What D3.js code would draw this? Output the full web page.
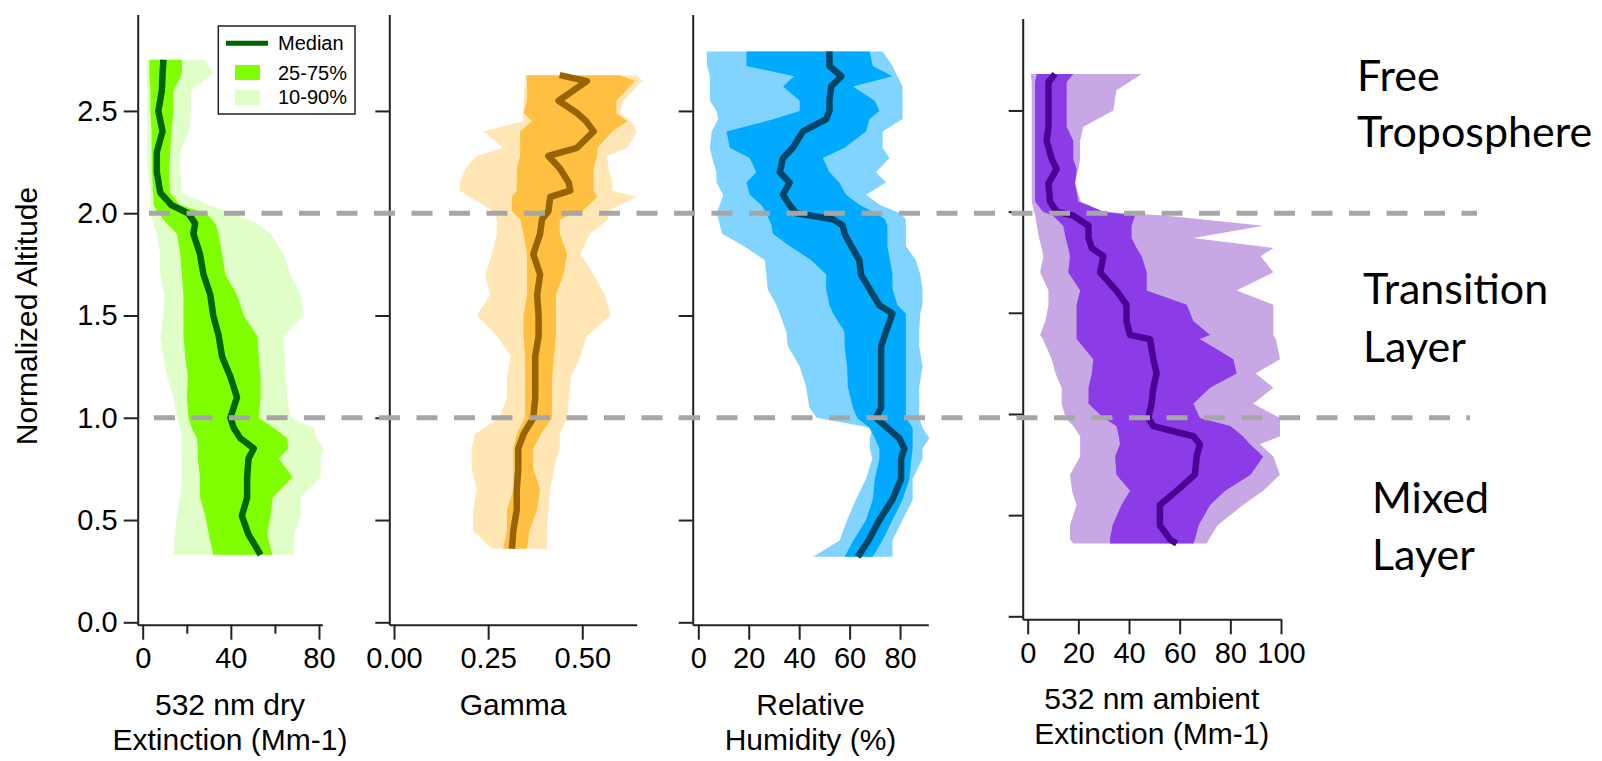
<!DOCTYPE html>
<html><head><meta charset="utf-8">
<script src="https://cdn.jsdelivr.net/npm/d3@7/dist/d3.min.js"></script>
<style>
body{margin:0;background:#fff;}
svg{display:block;}
text{font-family:Arial,"Liberation Sans",sans-serif;fill:#000;}
.region{font-family:Lato,"Open Sans",sans-serif;}
</style>
</head><body>
<svg id="c" width="1602" height="761"></svg>
<script>
// ---------------- DATA ----------------
// Panel 1: 532 nm dry extinction (Mm-1)
const dryAlt = [0.33,0.43,0.52,0.61,0.71,0.80,0.85,0.90,0.95,1.00,1.10,1.20,1.30,1.40,1.50,1.60,1.70,1.80,1.90,1.95,2.00,2.04,2.10,2.20,2.30,2.40,2.50,2.60,2.68,2.75];
const dryP10 = [14,14.5,15.5,17,17.8,17.8,17.5,17.8,17,15.5,14,11,9.4,7.9,9.4,9.8,7.9,7.9,6.4,4.7,3.4,3.4,3.4,2.3,2,2,2,2,1.8,1.8];
const dryP25 = [32,30,28.4,26,26,25,25,24.6,22.3,20.8,20,20.5,19.3,18.5,18.5,18.5,17.8,17,15.5,11,7,5,4.7,4.2,4,4,3.5,3.5,3,3];
const dryMed = [53.5,48,45,47.4,47.4,48,50.4,44.3,41.3,39.8,42.8,39.8,36,34.5,32,30.7,27.6,26,23,23.8,20.6,13,8,6.4,6.4,9,7.1,8.7,9,9.4];
const dryP75 = [58.8,56.5,58,59,68,61.8,66,65.6,59.5,52.7,53.5,53.5,52.7,52,45.9,42.8,37.5,36,34.4,33,29,17,12.4,12,12.5,13,14,14,17.8,17.8];
const dryP90 = [68.6,68.6,71.7,71.7,80.8,80.8,82,79,77.8,67,65.5,64.8,64.5,64,73,71.7,67,64,58,52,41,30,17.8,17,17,21,22,22,32,28];

// Panel 2: Gamma
const gamAlt = [0.36,0.45,0.55,0.65,0.75,0.85,0.92,1.00,1.10,1.20,1.30,1.40,1.50,1.60,1.70,1.80,1.90,1.97,2.01,2.08,2.11,2.15,2.22,2.28,2.32,2.40,2.45,2.49,2.55,2.646,2.675];
const gamP10 = [0.26,0.21,0.21,0.22,0.206,0.206,0.215,0.28,0.30,0.30,0.31,0.273,0.22,0.255,0.242,0.26,0.273,0.273,0.264,0.20,0.175,0.175,0.19,0.22,0.29,0.237,0.344,0.344,0.344,0.348,0.348];
const gamP25 = [0.29,0.30,0.30,0.317,0.317,0.317,0.326,0.348,0.348,0.348,0.348,0.344,0.344,0.353,0.353,0.353,0.344,0.335,0.313,0.313,0.326,0.326,0.326,0.335,0.335,0.335,0.366,0.344,0.353,0.353,0.353];
const gamMed = [0.313,0.317,0.326,0.326,0.33,0.33,0.344,0.37,0.375,0.375,0.375,0.384,0.384,0.38,0.388,0.37,0.388,0.393,0.41,0.415,0.468,0.464,0.44,0.41,0.486,0.53,0.51,0.486,0.437,0.512,0.44];
const gamP75 = [0.353,0.36,0.38,0.388,0.37,0.37,0.39,0.42,0.42,0.42,0.425,0.43,0.43,0.43,0.45,0.46,0.44,0.44,0.50,0.54,0.53,0.53,0.53,0.54,0.54,0.58,0.62,0.59,0.59,0.64,0.60];
const gamP90 = [0.406,0.406,0.41,0.415,0.425,0.44,0.44,0.46,0.465,0.47,0.495,0.512,0.575,0.56,0.53,0.495,0.52,0.57,0.566,0.645,0.58,0.58,0.57,0.566,0.62,0.645,0.63,0.60,0.61,0.66,0.645];

// Panel 3: Relative Humidity (%)
const rhAlt = [0.32,0.4,0.5,0.6,0.7,0.8,0.85,0.9,0.95,1.0,1.05,1.15,1.25,1.35,1.42,1.51,1.55,1.63,1.7,1.77,1.84,1.9,1.94,1.97,2.0,2.04,2.09,2.15,2.2,2.27,2.32,2.4,2.46,2.5,2.55,2.62,2.67,2.72,2.79];
const rhP10 = [45.5,56,59,62.5,66.5,69,68,68,69,47,44,42.8,40.2,35.5,34.9,32.3,31,27.5,27,26.4,18,9.5,8.6,8,7.2,8.5,9.9,7.2,7.2,5.5,4.6,5.3,7.9,7.2,4.6,4.6,4.6,3.5,3.3];
const rhP25 = [58,61.5,66.5,69.2,70,71.8,71.8,70,67.9,63,61.3,59.3,59,58,58,53.4,52,50.7,50.7,44.8,36.2,29.6,29,28,27,25,20.4,19.1,23,20.4,12.5,11.2,30,40.2,40.2,33.6,38,19.1,19.1];
const rhMed = [63.2,67.5,71.8,77,80.4,80.4,81.7,79.7,75,70.5,72.5,72.5,72.5,72.5,74.4,77,71.8,67.9,64.5,63.9,60.6,58,57.3,53.4,38.9,36.2,33.6,36.2,32.3,33.6,37.5,41.5,50.7,52,52,52.7,56.7,52,52];
const rhP75 = [69.2,73,77,81,83.7,84.5,85,85,85,82.3,82.3,82.3,82.3,82.3,82.3,82.3,79,77,77,76,75,75,75,74,70.5,64,58.6,55.9,52,49.4,58,66.5,67.9,71.8,70,61.3,77,69.2,67.9];
const rhP90 = [77,77,81,85,85,88.9,88.9,91.6,89,87.6,87.6,87.6,88.9,87.6,87.6,88,88.9,88.9,88,86.3,82.3,82.3,82.3,82.3,80,72,66.5,74.4,70.5,75.8,73.1,73.1,81,81,81,81,79,77,73.1];

// Panel 4: 532 nm ambient extinction (Mm-1)
const ambAlt = [0.36,0.38,0.45,0.55,0.62,0.7,0.79,0.85,0.89,0.94,0.98,1.05,1.13,1.2,1.27,1.37,1.39,1.46,1.54,1.61,1.7,1.78,1.82,1.87,1.93,1.98,2.0,2.05,2.14,2.21,2.26,2.35,2.42,2.5,2.6,2.64,2.68];
const ambP10 = [18,16.7,16.7,19.3,17.5,16.7,20.7,20.7,20.7,18,15,13.4,13.4,11,9.5,6,4.9,7,8.2,8.2,4.9,6.2,5.5,4.5,3.6,3,2.5,1.6,1.6,1.6,1.6,1.6,1.6,1.6,1.6,1.6,1.2];
const ambP25 = [32.5,32.5,33.5,37,40.4,35,34.5,36.4,36,35,30,24,24,25.3,25.9,19.3,19.3,19.3,19.3,20.7,16,16.7,16,15,14,10,6,2.9,2.9,2.9,2.9,2.9,2.9,2.9,2.9,2.9,3.6];
const ambMed = [58.8,56.2,52.2,52.2,58.8,66,66.7,68,65.4,49.6,47.6,48.9,49.6,50.9,49.6,48.3,40.4,39,39,35,28.6,29.9,25.3,24,24,18,11.4,8.8,8.2,11.4,9.5,7.5,8.2,8.2,8.2,8.2,10.8];
const ambP75 = [65.4,66,67.5,72,78,88,93,87.8,85,80,68,65.4,72,82.5,81.2,68,72,65.4,62.8,47,47,45,43,41,41,42.4,30,20,18.7,19.3,18,18,15.4,15.4,15.4,15.4,18];
const ambP90 = [70.7,71.5,75,85,93,99.6,97,91.7,99.6,99.6,99.6,89,97,90,99.6,98,97,97,97,82.5,97,92,97,65.4,93,55,30,21,18.7,20,20.7,20.7,22,33.8,35,40,45];

// Axis ticks / labels
const altTicks = [0, 0.5, 1.0, 1.5, 2.0, 2.5];
const dryTicks = [0, 40, 80], dryMinor = [20, 60];
const gamTicks = [0, 0.25, 0.5];
const rhTicks = [0, 20, 40, 60, 80];
const ambTicks = [0, 20, 40, 60, 80, 100];
const layerBounds = [1.0, 2.0];
const legendLabels = ["Median", "25-75%", "10-90%"];
const regionLabels = [["Free", "Troposphere"], ["Transition", "Layer"], ["Mixed", "Layer"]];

// ---------------- LAYOUT ----------------
const svg = d3.select("#c");
const panels = [
  {alt:dryAlt,p10:dryP10,p25:dryP25,med:dryMed,p75:dryP75,p90:dryP90,
   xDom:[-2.27,81.5], xRange:[137.7,322.3], yDom:[-0.0117,2.971], yRange:[624.7,14.6],
   ticks:dryTicks, minor:dryMinor, fmt:d3.format("d"), yLabels:true,
   title:["532 nm dry","Extinction (Mm-1)"], titleY:[715,750],
   c:["#e0ffc8","#80ff00","#006400"]},
  {alt:gamAlt,p10:gamP10,p25:gamP25,med:gamMed,p75:gamP75,p90:gamP90,
   xDom:[-0.0125,0.6445], xRange:[389.3,636.7], yDom:[-0.0117,2.971], yRange:[624.7,14.6],
   ticks:gamTicks, minor:[], fmt:d3.format(".2f"), yLabels:false,
   title:["Gamma"], titleY:[715],
   c:["#ffe6b4","#ffbf40","#996400"]},
  {alt:rhAlt,p10:rhP10,p25:rhP25,med:rhMed,p75:rhP75,p90:rhP90,
   xDom:[-2.22,91.2], xRange:[692.7,928.3], yDom:[-0.0117,2.971], yRange:[624.7,14.6],
   ticks:rhTicks, minor:[], fmt:d3.format("d"), yLabels:false,
   title:["Relative","Humidity (%)"], titleY:[715,750],
   c:["#80d4ff","#00aaff","#004466"]},
  {alt:ambAlt,p10:ambP10,p25:ambP25,med:ambMed,p75:ambP75,p90:ambP90,
   xDom:[-1.97,100], xRange:[1022.7,1281], yDom:[-0.0148,2.955], yRange:[619.3,18.4],
   ticks:ambTicks, minor:[], fmt:d3.format("d"), yLabels:false,
   title:["532 nm ambient","Extinction (Mm-1)"], titleY:[709,744],
   c:["#c8a8e4","#8c3ce6","#4b0096"]}
];

let y1 = null;
panels.forEach((p, i) => {
  const x = d3.scaleLinear().domain(p.xDom).range(p.xRange);
  const y = d3.scaleLinear().domain(p.yDom).range(p.yRange);
  if (i === 0) y1 = y;
  const rows = p.alt.map((a, k) => ({a, p10:p.p10[k], p25:p.p25[k], med:p.med[k], p75:p.p75[k], p90:p.p90[k]}));
  const g = svg.append("g");
  const outer = d3.area().y(d => y(d.a)).x0(d => x(d.p10)).x1(d => x(d.p90));
  const inner = d3.area().y(d => y(d.a)).x0(d => x(d.p25)).x1(d => x(d.p75));
  const line = d3.line().y(d => y(d.a)).x(d => x(d.med));
  g.append("path").datum(rows).attr("d", outer).attr("fill", p.c[0]);
  g.append("path").datum(rows).attr("d", inner).attr("fill", p.c[1]);
  g.append("path").datum(rows).attr("d", line).attr("fill", "none")
    .attr("stroke", p.c[2]).attr("stroke-width", 6.5).attr("stroke-linejoin", "round");

  // x axis
  const xAxisY = p.yRange[0];
  g.append("g").attr("transform", `translate(0,${xAxisY})`)
    .call(d3.axisBottom(x).tickValues(p.ticks).tickSize(15).tickSizeOuter(0).tickPadding(8).tickFormat(p.fmt));
  if (p.minor.length) {
    g.append("g").attr("transform", `translate(0,${xAxisY})`)
      .call(d3.axisBottom(x).tickValues(p.minor).tickSize(9).tickSizeOuter(0).tickFormat(""))
      .select(".domain").remove();
  }
  // y axis
  g.append("g").attr("transform", `translate(${p.xRange[0]},0)`)
    .call(d3.axisLeft(y).tickValues(altTicks).tickSize(14).tickSizeOuter(0).tickPadding(6)
      .tickFormat(p.yLabels ? d3.format(".1f") : ""));
  g.selectAll(".domain").attr("stroke", "#222").attr("stroke-width", 2);
  g.selectAll(".tick line").attr("stroke", "#222").attr("stroke-width", 2);
  g.selectAll(".tick text").attr("font-size", 29).attr("font-family", "Arial, 'Liberation Sans', sans-serif").attr("fill", "#000");

  // axis title
  const cx = (p.xRange[0] + p.xRange[1]) / 2;
  p.title.forEach((t, k) => {
    svg.append("text").attr("x", cx).attr("y", p.titleY[k]).attr("text-anchor", "middle")
      .attr("font-size", 30).text(t);
  });
});

// y title
svg.append("text").attr("transform", "translate(37,316) rotate(-90)")
  .attr("text-anchor", "middle").attr("font-size", 30).text("Normalized Altitude");

// legend (panel 1)
const lg = svg.append("g");
lg.append("rect").attr("x", 218.3).attr("y", 26).attr("width", 136.7).attr("height", 88)
  .attr("fill", "#fff").attr("stroke", "#222").attr("stroke-width", 1.5);
lg.append("line").attr("x1", 226).attr("x2", 268).attr("y1", 43.3).attr("y2", 43.3)
  .attr("stroke", panels[0].c[2]).attr("stroke-width", 5);
lg.append("rect").attr("x", 235).attr("y", 65).attr("width", 25).attr("height", 15).attr("fill", panels[0].c[1]);
lg.append("rect").attr("x", 235).attr("y", 90).attr("width", 25).attr("height", 15).attr("fill", panels[0].c[0]);
[50, 80, 104].forEach((yy, k) => {
  lg.append("text").attr("x", 278).attr("y", yy).attr("font-size", 20).text(legendLabels[k]);
});

// dashed layer boundaries
const dashX = [[154, 1470], [149, 1477]];
layerBounds.forEach((b, k) => {
  svg.append("line").attr("x1", dashX[k][0]).attr("x2", dashX[k][1])
    .attr("y1", y1(b)).attr("y2", y1(b))
    .attr("stroke", "#a6a6a6").attr("stroke-width", 5).attr("stroke-dasharray", "21 16.5");
});

// region labels
const regionPos = [[1357, 91, 147], [1363, 304, 362], [1372, 513, 570]];
regionLabels.forEach((lines, k) => {
  lines.forEach((t, j) => {
    svg.append("text").attr("class", "region").attr("x", regionPos[k][0]).attr("y", regionPos[k][1 + j])
      .attr("font-size", 43).text(t);
  });
});
</script>
</body></html>
